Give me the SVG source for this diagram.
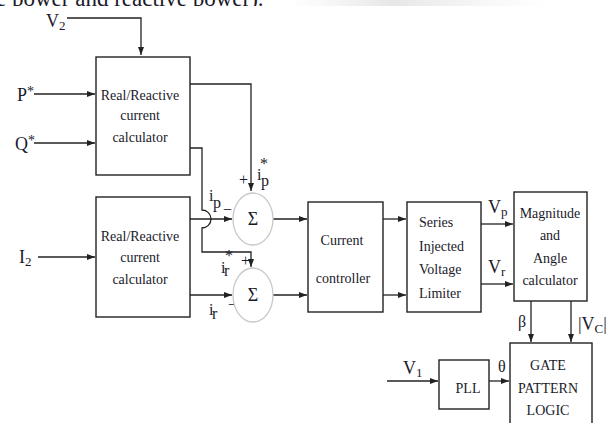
<svg xmlns="http://www.w3.org/2000/svg" width="613" height="423" viewBox="0 0 613 423">
<style>
.ln{fill:none;stroke:#222;stroke-width:1.3}
.bx{fill:#fff;stroke:#222;stroke-width:1.4}
.sum{fill:#fff;stroke:#c8c8c8;stroke-width:1.3}
text{font-family:"Liberation Serif","DejaVu Serif","Times New Roman",serif;fill:#1a1a2a}
.t{font-size:14px;text-anchor:middle}
.sg{font-size:18px;text-anchor:middle}
.tl{font-size:14px}
.lb{font-size:18px}
.sm{font-size:16px}
.sub{font-size:13px}
</style>
<defs>
<marker id="ah" markerUnits="userSpaceOnUse" markerWidth="8" markerHeight="6" refX="8" refY="3" orient="auto">
<path d="M0,0 L8,3 L0,6 Z" fill="#222"/>
</marker>
<clipPath id="topclip"><rect x="0" y="0" width="613" height="6"/></clipPath>
<linearGradient id="shade" x1="0" x2="1" y1="0" y2="0">
<stop offset="0" stop-color="#e8e8e8" stop-opacity="0"/>
<stop offset="0.4" stop-color="#e4e4e4" stop-opacity="0.9"/>
<stop offset="1" stop-color="#eee" stop-opacity="0"/>
</linearGradient>
</defs>
<rect width="613" height="423" fill="#fff"/>
<rect x="290" y="0" width="260" height="6" fill="url(#shade)"/>
<g clip-path="url(#topclip)">
<text x="-4" y="6" font-size="23" fill="#222">e power and reactive power).</text>
</g>

<g id="connectors">
<path class="ln" d="M67,18 H141 V55" marker-end="url(#ah)"/>
<path class="ln" d="M34,94 H95" marker-end="url(#ah)"/>
<path class="ln" d="M34,143 H95" marker-end="url(#ah)"/>
<path class="ln" d="M38,257 H95" marker-end="url(#ah)"/>
<path class="ln" d="M190,84 H251 V191" marker-end="url(#ah)"/>
<path class="ln" d="M190,148 H202 V210 A9,9 0 0 1 202,228 V252 H251 V267" marker-end="url(#ah)"/>
<path class="ln" d="M190,219 H232" marker-end="url(#ah)"/>
<path class="ln" d="M190,295 H232" marker-end="url(#ah)"/>
<path class="ln" d="M273,219 H307" marker-end="url(#ah)"/>
<path class="ln" d="M273,295 H307" marker-end="url(#ah)"/>
<path class="ln" d="M383,219 H406" marker-end="url(#ah)"/>
<path class="ln" d="M383,295 H406" marker-end="url(#ah)"/>
<path class="ln" d="M481,224 H513" marker-end="url(#ah)"/>
<path class="ln" d="M481,284 H513" marker-end="url(#ah)"/>
<path class="ln" d="M531,301 V342" marker-end="url(#ah)"/>
<path class="ln" d="M571,301 V342" marker-end="url(#ah)"/>
<path class="ln" d="M387,381 H438" marker-end="url(#ah)"/>
<path class="ln" d="M489,381 H509" marker-end="url(#ah)"/>
</g>

<g id="labels">
<text class="lb" x="46" y="27">V<tspan class="sub" dy="3">2</tspan></text>
<text class="lb" x="17" y="101">P<tspan dy="-5" font-size="14">*</tspan></text>
<text class="lb" x="15" y="150">Q<tspan dy="-5" font-size="14">*</tspan></text>
<text class="lb" x="19" y="263">I<tspan class="sub" dy="3">2</tspan></text>
<text class="sm" x="239" y="185">+</text>
<text class="sm" x="257" y="180">i</text>
<text class="sm" x="260" y="169" font-size="14">*</text>
<text class="sm" x="261" y="186" font-size="14">p</text>
<text class="sm" x="209" y="201">i</text>
<text class="sm" x="213" y="208" font-size="14">p</text>
<text class="sm" x="223" y="215">−</text>
<text class="sm" x="241" y="266">+</text>
<text class="sm" x="221" y="273">i</text>
<text class="sm" x="225" y="261" font-size="14">*</text>
<text class="sm" x="224" y="276" font-size="14">r</text>
<text class="sm" x="228" y="310">−</text>
<text class="sm" x="209" y="315">i</text>
<text class="sm" x="212" y="319" font-size="14">r</text>
<text class="lb" x="488" y="213">V<tspan class="sub" dy="3">p</tspan></text>
<text class="lb" x="488" y="273">V<tspan class="sub" dy="3">r</tspan></text>
<text class="sm" x="518" y="327">β</text>
<text class="lb" x="578" y="330">|V<tspan class="sub" dy="3">C</tspan><tspan dy="-3">|</tspan></text>
<text class="lb" x="403" y="374">V<tspan class="sub" dy="3">1</tspan></text>
<text class="sm" x="498" y="372" font-size="13">θ</text>
</g>

<g id="calc1">
<rect class="bx" x="96" y="57" width="94" height="118"/>
<text class="t" x="140" y="100">Real/Reactive</text>
<text class="t" x="140" y="120">current</text>
<text class="t" x="140" y="142">calculator</text>
</g>
<g id="calc2">
<rect class="bx" x="96" y="197" width="94" height="120"/>
<text class="t" x="140" y="241">Real/Reactive</text>
<text class="t" x="140" y="262">current</text>
<text class="t" x="140" y="284">calculator</text>
</g>
<g id="sum1">
<ellipse class="sum" cx="253" cy="219" rx="20" ry="26"/>
<text class="sg" x="253" y="225">Σ</text>
</g>
<g id="sum2">
<ellipse class="sum" cx="253" cy="295" rx="20" ry="27"/>
<text class="sg" x="253" y="301">Σ</text>
</g>
<g id="controller">
<rect class="bx" x="308" y="202" width="75" height="110"/>
<text class="t" x="342" y="245">Current</text>
<text class="t" x="343" y="283">controller</text>
</g>
<g id="limiter">
<rect class="bx" x="407" y="202" width="74" height="110"/>
<text class="tl" x="419" y="227">Series</text>
<text class="tl" x="419" y="251">Injected</text>
<text class="tl" x="419" y="274">Voltage</text>
<text class="tl" x="419" y="298">Limiter</text>
</g>
<g id="magnitude">
<rect class="bx" x="514" y="192" width="73" height="109"/>
<text class="t" x="550" y="218">Magnitude</text>
<text class="t" x="550" y="240">and</text>
<text class="t" x="550" y="263">Angle</text>
<text class="t" x="550" y="285">calculator</text>
</g>
<g id="pll">
<rect class="bx" x="439" y="360" width="50" height="49"/>
<text class="t" x="468" y="393">PLL</text>
</g>
<g id="gate">
<rect class="bx" x="510" y="343" width="82" height="90"/>
<text class="t" x="548" y="370">GATE</text>
<text class="t" x="548" y="393">PATTERN</text>
<text class="t" x="548" y="415">LOGIC</text>
</g>
</svg>
